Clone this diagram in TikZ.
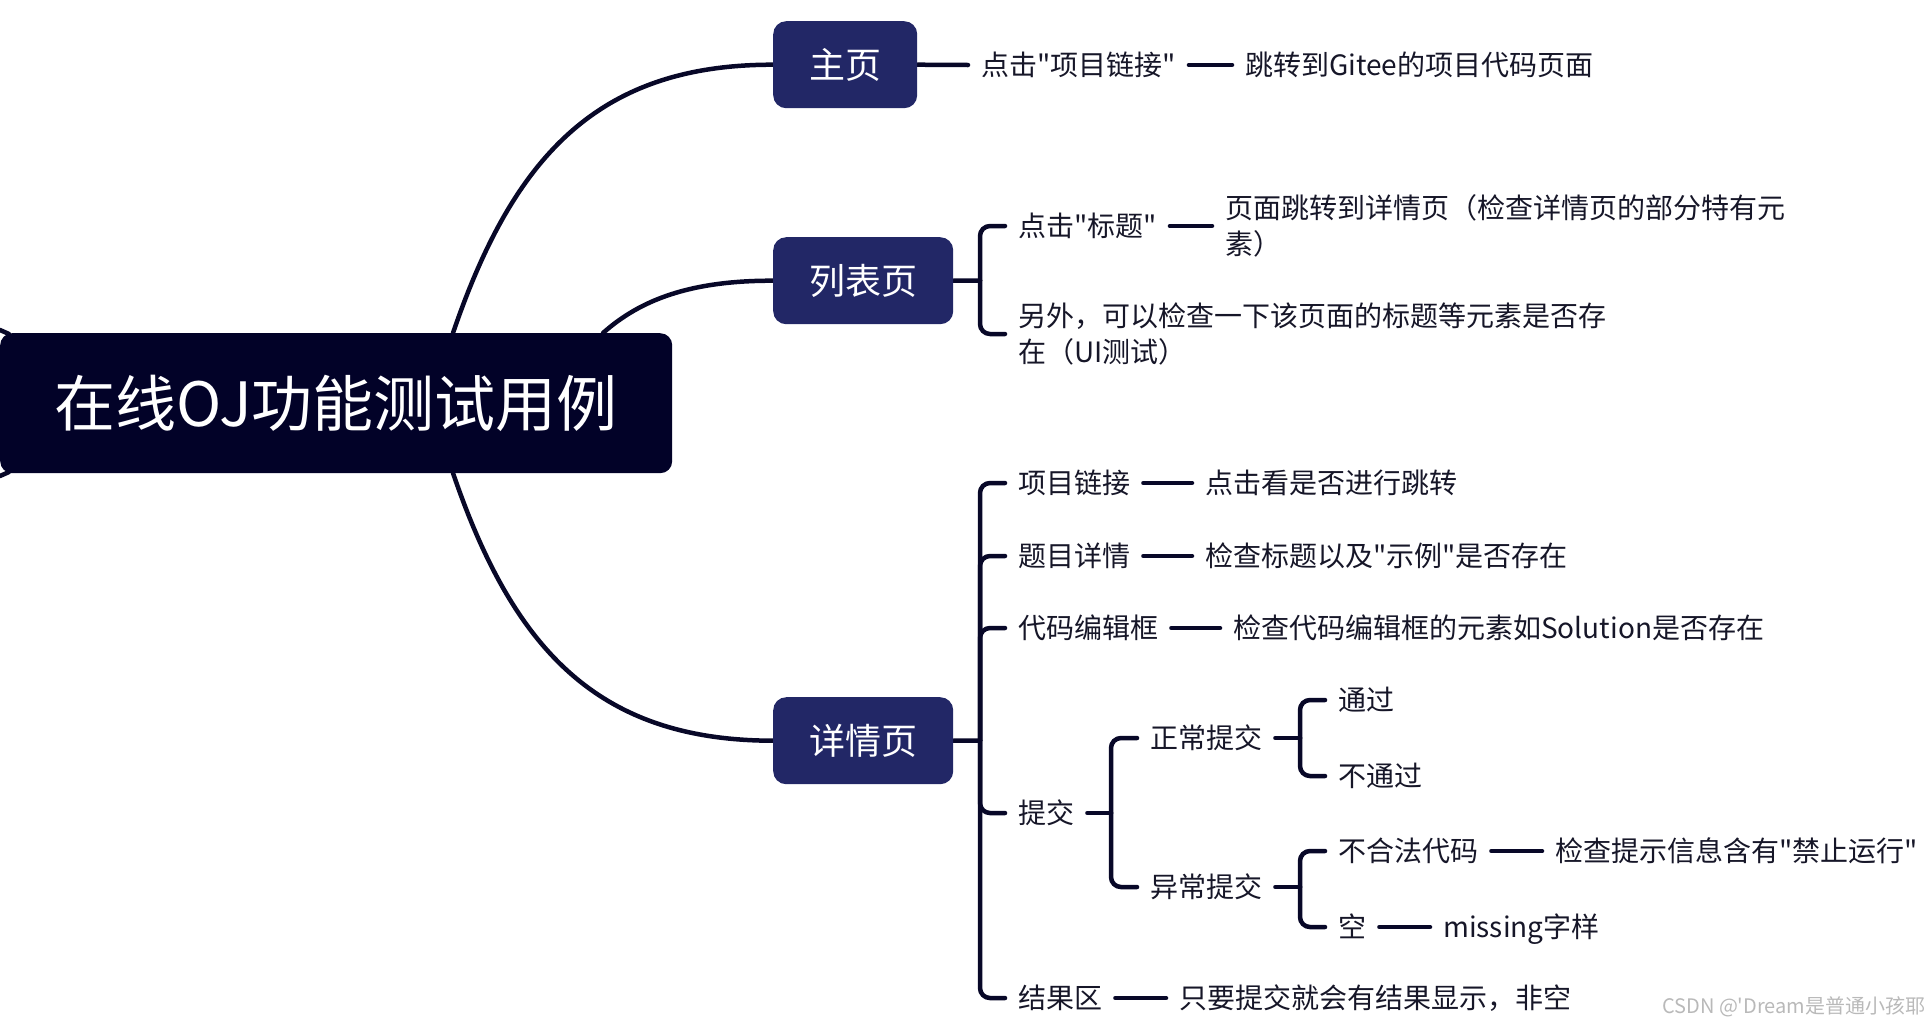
\documentclass[tikz,border=0pt]{standalone}
\usepackage{fontspec}
\setmainfont{Noto Sans CJK SC}[Ligatures=TeXOff]
\usetikzlibrary{backgrounds}
\definecolor{rootc}{RGB}{2,2,40}
\definecolor{boxc}{RGB}{34,39,102}
\definecolor{linec}{RGB}{8,8,40}
\definecolor{txtc}{RGB}{22,22,40}
\newcommand\lsx{\rule[-3.4pt]{0pt}{28pt}}
\begin{document}
\begin{tikzpicture}[x=1pt,y=-1pt,
  conn/.style={draw=linec,line width=4.5,line cap=round},
  brk/.style={draw=linec,line width=4.5,line cap=round,rounded corners=10},
  rootbox/.style={fill=rootc,rounded corners=12,text=white,inner sep=0,
    font=\fontsize{61}{66}\selectfont,text height=53.7,text depth=7.3,anchor=north west},
  lvl/.style={fill=boxc,rounded corners=13,text=white,inner sep=0,
    font=\fontsize{36}{40}\selectfont,text height=31.7,text depth=4.3,
    minimum height=87,anchor=north west},
  txt/.style={text=txtc,inner sep=0,anchor=west,
    font=\fontsize{28}{35.7}\selectfont,text height=24.6,text depth=3.4},
  txtml/.style={text=txtc,inner sep=0,anchor=west,align=left,
    font=\fontsize{28}{35.7}\selectfont},
]
\useasboundingbox (0,0) rectangle (1932,1026);

% root and level-1 boxes
\node[rootbox,minimum width=672,minimum height=140] (root) at (0,333) {在线OJ功能测试用例};
\node[lvl,minimum width=144] (zy) at (773,21) {主页};
\node[lvl,minimum width=180] (lb) at (773,237) {列表页};
\node[lvl,minimum width=180] (xq) at (773,697) {详情页};

% text nodes
\node[txt] (zya) at (981,65) {点击"项目链接"};
\node[txt] (zyb) at (1245,65) {跳转到Gitee的项目代码页面};

\node[txt] (lba) at (1018,226) {点击"标题"};
\node[txtml] (lbb) at (1225,226) {\lsx 页面跳转到详情页（检查详情页的部分特有元\\\lsx 素）};
\node[txtml] (lbc) at (1018,334) {\lsx 另外，可以检查一下该页面的标题等元素是否存\\\lsx 在（UI测试）};

\node[txt] (xqa) at (1018,483) {项目链接};
\node[txt] (xqa2) at (1205,483) {点击看是否进行跳转};
\node[txt] (xqb) at (1018,556) {题目详情};
\node[txt] (xqb2) at (1205,556) {检查标题以及"示例"是否存在};
\node[txt] (xqc) at (1018,628) {代码编辑框};
\node[txt] (xqc2) at (1233,628) {检查代码编辑框的元素如Solution是否存在};
\node[txt] (xqd) at (1018,813) {提交};
\node[txt] (zc) at (1150,738) {正常提交};
\node[txt] (tg) at (1338,700) {通过};
\node[txt] (btg) at (1338,776) {不通过};
\node[txt] (yc) at (1150,887) {异常提交};
\node[txt] (bhf) at (1338,851) {不合法代码};
\node[txt] (bhf2) at (1555,851) {检查提示信息含有"禁止运行"};
\node[txt] (kong) at (1338,927) {空};
\node[txt] (kong2) at (1443,927) {missing字样};
\node[txt] (xqe) at (1018,998) {结果区};
\node[txt] (xqe2) at (1179,998) {只要提交就会有结果显示，非空};

\node[anchor=west,inner sep=0,text=gray!55,font=\fontsize{20}{22}\selectfont] (wm) at (1662,1007) {CSDN @'Dream是普通小孩耶};

% junctions
\coordinate (r1) at (453,333);
\coordinate (r2) at (603,333);
\coordinate (r3) at (453,473);
\coordinate (j1) at (980,280.5);
\coordinate (j2) at (980,740.5);
\coordinate (j3) at (1111,813);
\coordinate (j4) at (1300,738);
\coordinate (j5) at (1300,887);
\coordinate (lt) at (0,330);
\coordinate (ltb) at (9,334);
\coordinate (lb0) at (0,476);
\coordinate (lbb0) at (9,472);

\begin{scope}[on background layer]
\draw[conn] (r1) .. controls (514,154) and (600,64.5) .. (zy.west);
\draw[conn] (r2) .. controls (640,300) and (690,280.5) .. (lb.west);
\draw[conn] (r3) .. controls (514,652) and (600,740.5) .. (xq.west);
\draw[conn] (lt) -- (ltb);
\draw[conn] (lb0) -- (lbb0);

% main page row
\draw[conn] (zy.east) -- ([xshift=-13]zya.west);
\draw[conn] ([xshift=13]zya.east) -- ([xshift=-13]zyb.west);

% list page bracket
\draw[conn] (lb.east) -- (j1);
\draw[brk] (j1) |- ([xshift=-13]lba.west);
\draw[brk] (j1) |- ([xshift=-13]lbc.west);
\draw[conn] ([xshift=13]lba.east) -- ([xshift=-13]lbb.west);

% detail page bracket
\draw[conn] (xq.east) -- (j2);
\draw[brk] (j2) |- ([xshift=-13]xqa.west);
\draw[brk] (j2) |- ([xshift=-13]xqb.west);
\draw[brk] (j2) |- ([xshift=-13]xqc.west);
\draw[brk] (j2) |- ([xshift=-13]xqd.west);
\draw[brk] (j2) |- ([xshift=-13]xqe.west);
\draw[conn] ([xshift=13]xqa.east) -- ([xshift=-13]xqa2.west);
\draw[conn] ([xshift=13]xqb.east) -- ([xshift=-13]xqb2.west);
\draw[conn] ([xshift=13]xqc.east) -- ([xshift=-13]xqc2.west);
\draw[conn] ([xshift=13]xqe.east) -- ([xshift=-13]xqe2.west);

% submit
\draw[conn] ([xshift=13]xqd.east) -- (j3);
\draw[brk] (j3) |- ([xshift=-13]zc.west);
\draw[brk] (j3) |- ([xshift=-13]yc.west);
\draw[conn] ([xshift=13]zc.east) -- (j4);
\draw[brk] (j4) |- ([xshift=-13]tg.west);
\draw[brk] (j4) |- ([xshift=-13]btg.west);
\draw[conn] ([xshift=13]yc.east) -- (j5);
\draw[brk] (j5) |- ([xshift=-13]bhf.west);
\draw[brk] (j5) |- ([xshift=-13]kong.west);
\draw[conn] ([xshift=13]bhf.east) -- ([xshift=-13]bhf2.west);
\draw[conn] ([xshift=13]kong.east) -- ([xshift=-13]kong2.west);
\end{scope}
\end{tikzpicture}
\end{document}
